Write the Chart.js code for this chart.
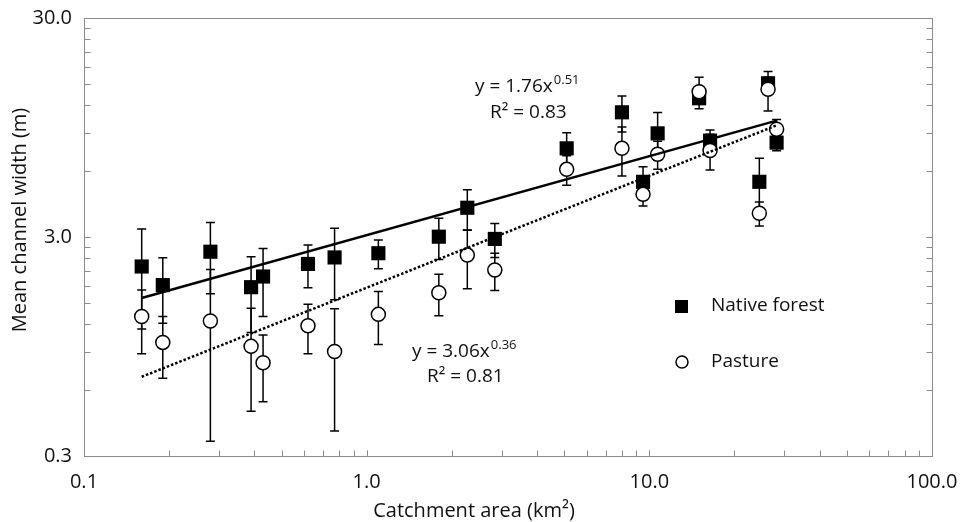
<!DOCTYPE html>
<html lang="en">
<head>
<meta charset="UTF-8">
<title>Channel width vs catchment area</title>
<script src="https://cdn.jsdelivr.net/npm/chart.js"></script>
<style>
  html, body { margin: 0; padding: 0; background: #fff; }
  #wrap { width: 962px; height: 522px; }
</style>
</head>
<body>
<div id="wrap"><canvas id="chart" width="962" height="522"></canvas></div>
<script>
// catchment area (km2), shared by both land uses
var catchmentArea = [0.16, 0.19, 0.28, 0.39, 0.43, 0.62, 0.77, 1.1, 1.8, 2.27, 2.84, 5.1, 8.0, 9.5, 10.7, 15.0, 16.4, 24.5, 26.3, 28.2];

// mean channel width (m) and its standard deviation
var forestWidth = [2.20, 1.81, 2.57, 1.77, 1.98, 2.26, 2.42, 2.53, 3.01, 4.08, 2.94, 7.62, 11.13, 5.36, 8.92, 12.9, 8.26, 5.36, 15.1, 8.09];
var forestSD = [1.06, 0.60, 0.92, 0.67, 0.68, 0.50, 0.87, 0.38, 0.64, 0.85, 0.52, 1.36, 2.08, 0.92, 2.2, 0.8, 0.98, 1.5, 1.0, 0.66];
var pastureWidth = [1.30, 0.99, 1.24, 0.95, 0.80, 1.18, 0.90, 1.33, 1.67, 2.48, 2.12, 6.11, 7.62, 4.70, 7.16, 13.82, 7.45, 3.85, 14.18, 9.31];
var pastureSD = [0.42, 0.31, 0.89, 0.47, 0.27, 0.30, 0.51, 0.36, 0.36, 0.74, 0.41, 0.94, 1.92, 0.54, 1.05, 2.26, 1.38, 0.48, 2.9, 1.0];

// trend line end points
var solidTrendX = [0.16, 28.2];
var solidTrendY = [1.58, 10.2];
var dottedTrendX = [0.16, 28.2];
var dottedTrendY = [0.69, 9.7];

// axis labels
var xTickLabels = [0.1, 1, 10, 100];
var yTickLabels = [0.3, 3, 30];

var FONT = "'Open Sans', sans-serif";
var AXIS_GREY = "#8c8c8c";
var TEXT = "#111";

function toPoints(xs, ys) {
  var pts = [];
  for (var i = 0; i < xs.length; i++) pts.push({ x: xs[i], y: ys[i] });
  return pts;
}

// vertical error bars, drawn under the markers
var errorBars = {
  id: "errorBars",
  beforeDatasetsDraw: function (chart) {
    var ctx = chart.ctx, xs = chart.scales.x, ys = chart.scales.y;
    ctx.save();
    ctx.strokeStyle = "#000";
    ctx.lineWidth = 1.5;
    chart.data.datasets.forEach(function (ds) {
      if (!ds.sd) return;
      ds.data.forEach(function (p, i) {
        var e = ds.sd[i];
        var px = xs.getPixelForValue(p.x);
        var top = ys.getPixelForValue(p.y + e);
        var bot = ys.getPixelForValue(Math.max(p.y - e, 0.3));
        ctx.beginPath();
        ctx.moveTo(px, top); ctx.lineTo(px, bot);
        ctx.moveTo(px - 4.5, top); ctx.lineTo(px + 4.5, top);
        ctx.moveTo(px - 4.5, bot); ctx.lineTo(px + 4.5, bot);
        ctx.stroke();
      });
    });
    ctx.restore();
  }
};

function drawSup(ctx, x, y, base, sup) {
  ctx.font = "19px " + FONT;
  ctx.textAlign = "left";
  ctx.textBaseline = "middle";
  ctx.fillText(base, x, y);
  var w = ctx.measureText(base).width;
  ctx.font = "13px " + FONT;
  ctx.fillText(sup, x + w + 1, y - 7);
}

// frame, inward tick marks, legend and text
var decor = {
  id: "decor",
  afterDraw: function (chart) {
    var ctx = chart.ctx, a = chart.chartArea;
    var xs = chart.scales.x, ys = chart.scales.y;
    ctx.save();
    ctx.strokeStyle = AXIS_GREY;
    ctx.lineWidth = 1;
    var L = Math.round(a.left) + 0.5, R = Math.round(a.right) + 0.5;
    var T = Math.round(a.top) + 0.5, B = Math.round(a.bottom) + 0.5;
    ctx.strokeRect(L, T, R - L, B - T);

    ctx.beginPath();
    // y ticks on both sides, multiples of 0.3 per decade
    for (var d = 0.3; d < 30; d *= 10) {
      for (var k = 1; k <= 10; k++) {
        var py = Math.round(ys.getPixelForValue(d * k)) + 0.5;
        ctx.moveTo(L, py); ctx.lineTo(L + 6, py);
        ctx.moveTo(R, py); ctx.lineTo(R - 6, py);
      }
    }
    // x ticks on the bottom
    for (var dx = 0.1; dx < 100; dx *= 10) {
      for (var j = 1; j <= 10; j++) {
        var px = Math.round(xs.getPixelForValue(dx * j)) + 0.5;
        ctx.moveTo(px, B); ctx.lineTo(px, B - 6);
      }
    }
    ctx.stroke();

    ctx.fillStyle = TEXT;
    // regression labels
    drawSup(ctx, 475, 87, "y = 1.76x", "0.51");
    ctx.font = "19px " + FONT;
    ctx.fillText("R\u00b2 = 0.83", 490, 113);
    drawSup(ctx, 412, 352, "y = 3.06x", "0.36");
    ctx.font = "19px " + FONT;
    ctx.fillText("R\u00b2 = 0.81", 427, 377);

    // legend
    ctx.fillStyle = "#000";
    ctx.fillRect(675, 300, 13, 13);
    ctx.beginPath();
    ctx.arc(682, 362, 6, 0, Math.PI * 2);
    ctx.fillStyle = "#fff"; ctx.fill();
    ctx.strokeStyle = "#000"; ctx.lineWidth = 1.5; ctx.stroke();
    ctx.fillStyle = TEXT;
    ctx.font = "19px " + FONT;
    ctx.textBaseline = "middle";
    ctx.fillText("Native forest", 711, 306);
    ctx.fillText("Pasture", 711, 362);

    // axis titles
    ctx.textAlign = "center";
    ctx.font = "20px " + FONT;
    ctx.fillText("Catchment area (km\u00b2)", 474, 511);
    ctx.translate(20, 220);
    ctx.rotate(-Math.PI / 2);
    ctx.fillText("Mean channel width (m)", 0, 0);
    ctx.restore();
  }
};

function noOverflow(scale) {
  scale.paddingLeft = 0; scale.paddingRight = 0;
  scale.paddingTop = 0; scale.paddingBottom = 0;
}

var ctx = document.getElementById("chart").getContext("2d");
var myChart = new Chart(ctx, {
  type: "scatter",
  data: {
    datasets: [
      {
        label: "solid trend",
        data: toPoints(solidTrendX, solidTrendY),
        showLine: true,
        borderColor: "#000",
        borderWidth: 2.5,
        pointRadius: 0,
        order: 0
      },
      {
        label: "dotted trend",
        data: toPoints(dottedTrendX, dottedTrendY),
        showLine: true,
        borderColor: "#000",
        borderWidth: 2.5,
        borderDash: [2.5, 2],
        pointRadius: 0,
        order: 1
      },
      {
        label: "Pasture",
        data: toPoints(catchmentArea, pastureWidth),
        sd: pastureSD,
        pointStyle: "circle",
        pointRadius: 7,
        backgroundColor: "#fff",
        borderColor: "#000",
        borderWidth: 1.5,
        order: 2
      },
      {
        label: "Native forest",
        data: toPoints(catchmentArea, forestWidth),
        sd: forestSD,
        pointStyle: "rect",
        pointRadius: 10,
        backgroundColor: "#000",
        borderColor: "#000",
        borderWidth: 0,
        order: 3
      }
    ]
  },
  options: {
    responsive: false,
    animation: false,
    events: [],
    layout: { padding: { top: 18, right: 30, left: 0, bottom: 0 } },
    plugins: { legend: { display: false }, tooltip: { enabled: false } },
    scales: {
      x: {
        type: "logarithmic",
        min: 0.1,
        max: 100,
        afterBuildTicks: function (scale) {
          scale.ticks = xTickLabels.map(function (v) { return { value: v }; });
        },
        afterFit: function (scale) { scale.height = 66; noOverflow(scale); },
        grid: { display: false, drawTicks: false },
        border: { display: false },
        ticks: {
          padding: 14,
          maxRotation: 0,
          autoSkip: false,
          color: TEXT,
          font: { family: FONT, size: 20 },
          callback: function (v) { return Number(v).toFixed(1); }
        }
      },
      y: {
        type: "logarithmic",
        min: 0.3,
        max: 30,
        afterBuildTicks: function (scale) {
          scale.ticks = yTickLabels.map(function (v) { return { value: v }; });
        },
        afterFit: function (scale) { scale.width = 84; noOverflow(scale); },
        grid: { display: false, drawTicks: false },
        border: { display: false },
        ticks: {
          padding: 12,
          autoSkip: false,
          color: TEXT,
          font: { family: FONT, size: 20 },
          callback: function (v) { return Number(v).toFixed(1); }
        }
      }
    }
  },
  plugins: [errorBars, decor]
});
</script>
</body>
</html>
